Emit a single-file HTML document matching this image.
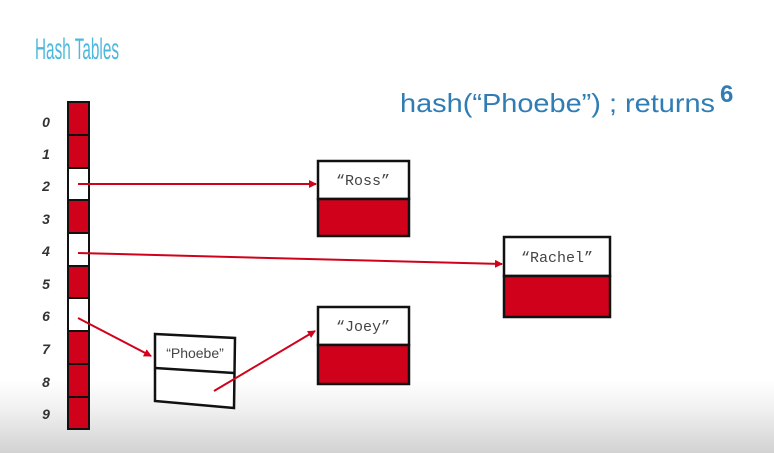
<!DOCTYPE html>
<html><head><meta charset="utf-8"><style>
html,body{margin:0;padding:0;}
body{width:774px;height:453px;overflow:hidden;background:linear-gradient(to bottom,#fff 0px,#fff 380px,#f0f0f0 410px,#d2d2d2 453px);}
svg{position:absolute;left:0;top:0;}
</style></head><body>
<svg width="774" height="453" viewBox="0 0 774 453">
<defs>
<marker id="ah" markerWidth="8" markerHeight="8" refX="7" refY="4" orient="auto" markerUnits="userSpaceOnUse"><path d="M0,0 L8,4 L0,8 z" fill="#d0021b"/></marker>
</defs>
<text x="35" y="59" font-family="Liberation Sans, sans-serif" font-size="30" fill="#4db8dc" textLength="84" lengthAdjust="spacingAndGlyphs">Hash Tables</text>
<text x="400" y="112" font-family="Liberation Sans, sans-serif" font-size="26" fill="#2f7db4" textLength="315" lengthAdjust="spacingAndGlyphs">hash(“Phoebe”) ; returns</text>
<text x="720" y="102" font-family="Liberation Sans, sans-serif" font-size="24" font-weight="bold" fill="#2f7db4">6</text>
<g font-family="Liberation Sans, sans-serif" font-size="14" font-style="italic" font-weight="bold" fill="#333" text-anchor="middle">
<text x="46" y="127">0</text><text x="46" y="159">1</text><text x="46" y="191">2</text><text x="46" y="224">3</text><text x="46" y="256">4</text><text x="46" y="289">5</text><text x="46" y="321">6</text><text x="46" y="354">7</text><text x="46" y="387">8</text><text x="46" y="419">9</text>
</g>
<g stroke="#111" stroke-width="2">
<rect x="68" y="102" width="21" height="33" fill="#d0021b"/>
<rect x="68" y="135" width="21" height="33" fill="#d0021b"/>
<rect x="68" y="168" width="21" height="32" fill="#fff"/>
<rect x="68" y="200" width="21" height="33" fill="#d0021b"/>
<rect x="68" y="233" width="21" height="33" fill="#fff"/>
<rect x="68" y="266" width="21" height="32" fill="#d0021b"/>
<rect x="68" y="298" width="21" height="33" fill="#fff"/>
<rect x="68" y="331" width="21" height="33" fill="#d0021b"/>
<rect x="68" y="364" width="21" height="33" fill="#d0021b"/>
<rect x="68" y="397" width="21" height="32" fill="#d0021b"/>
</g>
<g stroke="#111" stroke-width="2.5">
<rect x="318" y="161" width="91" height="38" fill="#fff"/>
<rect x="318" y="199" width="91" height="37" fill="#d0021b"/>
<rect x="504" y="237" width="106" height="39" fill="#fff"/>
<rect x="504" y="276" width="106" height="41" fill="#d0021b"/>
<rect x="318" y="307" width="91" height="38" fill="#fff"/>
<rect x="318" y="345" width="91" height="39" fill="#d0021b"/>
<polygon points="155,334 235,338 234,408 155,401" fill="#fff"/>
<line x1="155" y1="368" x2="234" y2="373"/>
</g>
<g font-family="Liberation Mono, monospace" font-size="15" fill="#444" text-anchor="middle">
<text x="363" y="185">“Ross”</text>
<text x="557" y="262">“Rachel”</text>
<text x="363" y="331">“Joey”</text>
</g>
<text x="195" y="358" font-family="Liberation Sans, sans-serif" font-size="14" fill="#444" text-anchor="middle">“Phoebe”</text>
<g stroke="#d0021b" stroke-width="2" fill="none" marker-end="url(#ah)">
<line x1="78" y1="184" x2="316" y2="184"/>
<line x1="78" y1="253" x2="502" y2="264"/>
<line x1="78" y1="318" x2="151" y2="356"/>
<line x1="214" y1="391" x2="315" y2="331"/>
</g>
</svg>
</body></html>
